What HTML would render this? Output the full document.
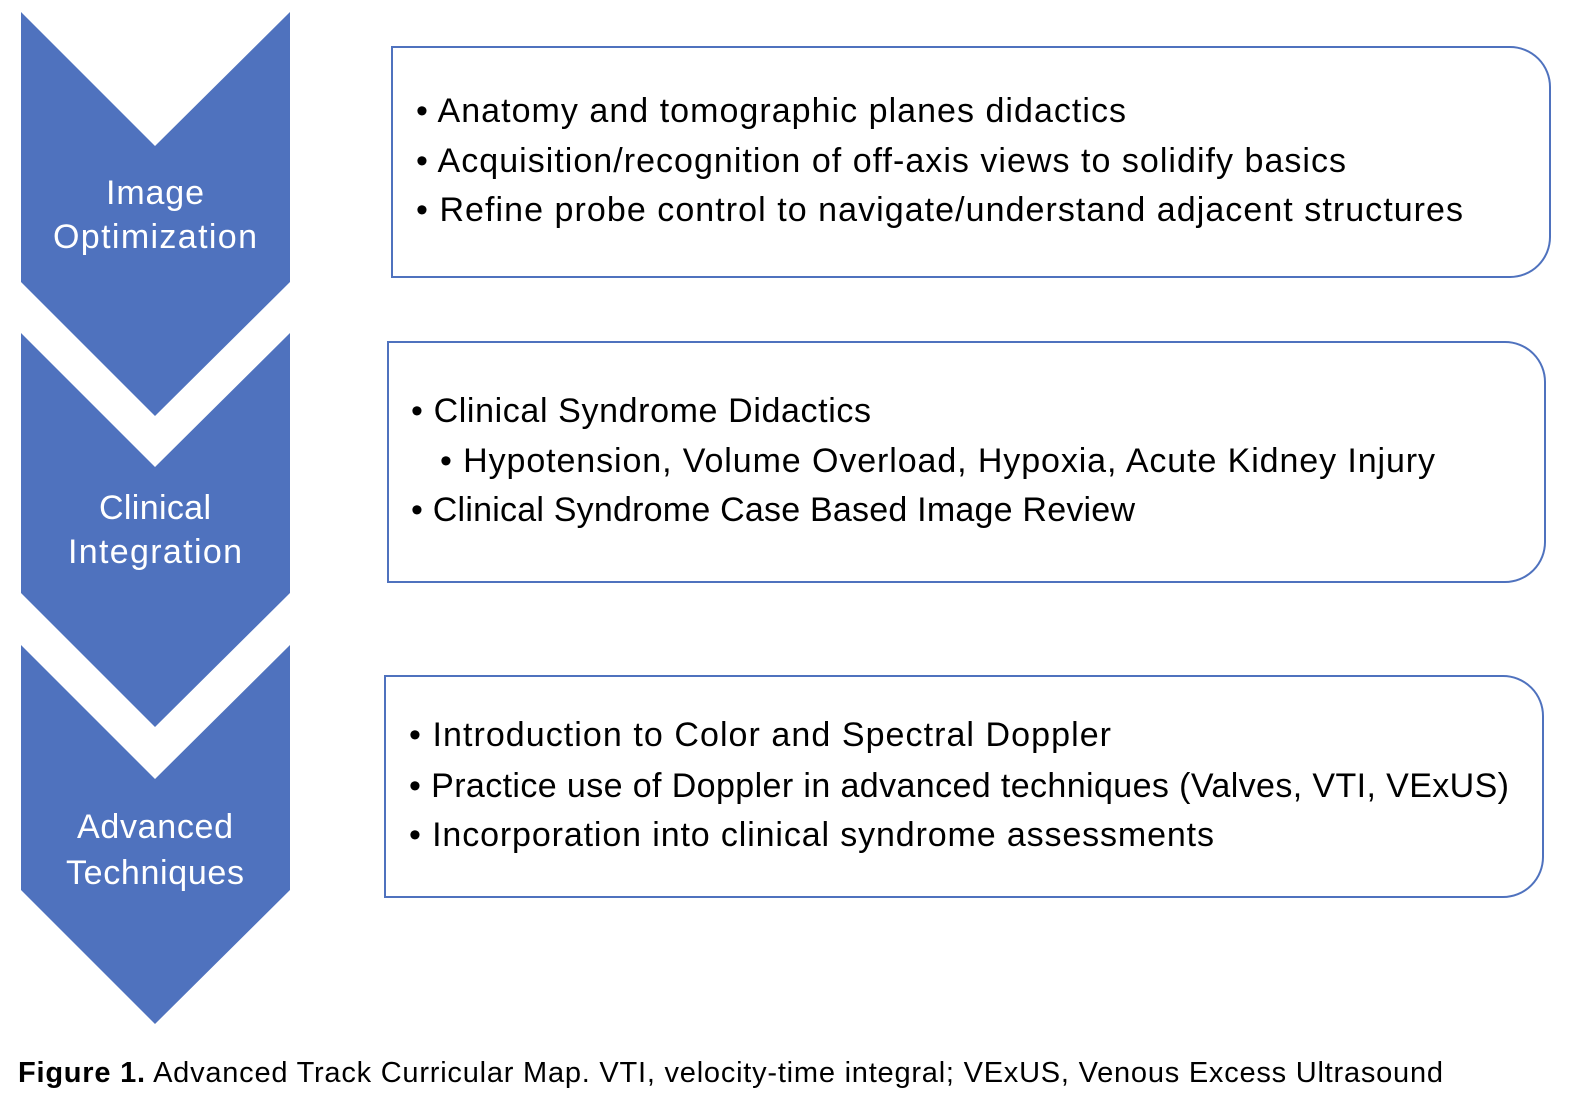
<!DOCTYPE html>
<html><head><meta charset="utf-8"><style>
html,body{margin:0;padding:0;background:#fff;}
body{width:1582px;height:1108px;overflow:hidden;}
svg text{font-family:"Liberation Sans",sans-serif;}
</style></head><body>
<svg width="1582" height="1108" viewBox="0 0 1582 1108" xmlns="http://www.w3.org/2000/svg">
<g fill="#4F72BE">
<polygon points="21,12 155,146 290,12 290,282 155,416 21,282"/>
<polygon points="21,333 155,467 290,333 290,593 155,727 21,593"/>
<polygon points="21,645 155,779 290,645 290,890 155,1024 21,890"/>
</g>
<g fill="#fff" font-size="34" text-anchor="middle">
<text x="155" y="204" textLength="98">Image</text>
<text x="155" y="248" textLength="204">Optimization</text>
<text x="155" y="519" textLength="112">Clinical</text>
<text x="155" y="563" textLength="174">Integration</text>
<text x="155" y="838" textLength="156">Advanced</text>
<text x="155" y="884" textLength="178">Techniques</text>
</g>
<g fill="#fff" stroke="#4F72BE" stroke-width="2">
<path d="M392,47 H1510 A40,40 0 0 1 1550,87 V237 A40,40 0 0 1 1510,277 H392 Z"/>
<path d="M388,342 H1505 A40,40 0 0 1 1545,382 V542 A40,40 0 0 1 1505,582 H388 Z"/>
<path d="M385,676 H1503 A40,40 0 0 1 1543,716 V857 A40,40 0 0 1 1503,897 H385 Z"/>
</g>
<g fill="#000" font-size="34">
<text x="416" y="122" textLength="710">• Anatomy and tomographic planes didactics</text>
<text x="416" y="172" textLength="930">• Acquisition/recognition of off-axis views to solidify basics</text>
<text x="416" y="221" textLength="1047">• Refine probe control to navigate/understand adjacent structures</text>
<text x="411" y="422" textLength="460">• Clinical Syndrome Didactics</text>
<text x="440" y="472" textLength="995">• Hypotension, Volume Overload, Hypoxia, Acute Kidney Injury</text>
<text x="411" y="521" textLength="724">• Clinical Syndrome Case Based Image Review</text>
<text x="409" y="746" textLength="702">• Introduction to Color and Spectral Doppler</text>
<text x="409" y="797" textLength="1100">• Practice use of Doppler in advanced techniques (Valves, VTI, VExUS)</text>
<text x="409" y="846" textLength="805">• Incorporation into clinical syndrome assessments</text>
</g>
<text x="18" y="1082" font-size="29" fill="#000" textLength="1425"><tspan font-weight="bold">Figure 1.</tspan> Advanced Track Curricular Map. VTI, velocity-time integral; VExUS, Venous Excess Ultrasound</text>
</svg>
</body></html>
